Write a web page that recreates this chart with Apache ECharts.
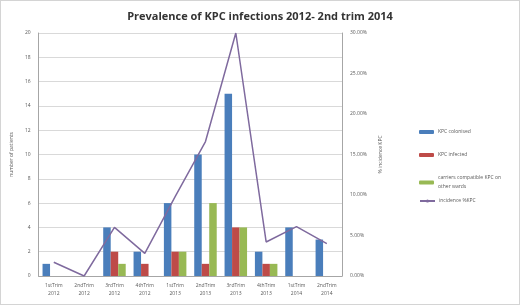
<!DOCTYPE html>
<html lang="en">
  <head>
    <meta charset="UTF-8" />
    <title>Prevalence of KPC infections</title>
    <script src="https://cdn.jsdelivr.net/npm/echarts@6/dist/echarts.min.js"></script>
  </head>
  <style>
    html,
    body {
      margin: 0;
      padding: 0;
      background: #fff;
    }
    #echart {
      width: 520px;
      height: 305px;
      box-sizing: border-box;
      border: 1px solid #d4d4d4;
    }
  </style>
  <body>
    <div id="echart"></div>
  </body>
  <script>
    const categories = [
      "1stTrim\n2012", "2ndTrim\n2012", "3rdTrim\n2012", "4thTrim\n2012",
      "1stTrim\n2013", "2ndTrim\n2013", "3rdTrim\n2013", "4thTrim\n2013",
      "1stTrim\n2014", "2ndTrim\n2014",
    ];
    const colonised = [1, 0, 4, 2, 6, 10, 15, 2, 4, 3];
    const infected = [0, 0, 2, 1, 2, 1, 4, 1, 0, 0];
    const otherWards = [0, 0, 1, 0, 2, 6, 4, 1, 0, 0];
    // % incidence, right axis
    const incidence = [1.7, 0, 6.0, 2.8, 9.8, 16.6, 30.0, 4.2, 6.1, 4.0];

    const names = [
      "KPC colonised",
      "KPC infected",
      "carriers compatible KPC on\nother wards",
      "incidence %KPC",
    ];
    const legendTops = [126.5, 149.5, 172.5, 195.5];

    const chart = echarts.init(document.getElementById("echart"));
    const font = "Open Sans, sans-serif";
    const small = { fontSize: 5, color: "#595959", fontFamily: font };

    const option = {
      animation: false,
      title: {
        text: "Prevalence of KPC infections 2012- 2nd trim 2014",
        left: "center",
        top: 5,
        textStyle: { fontSize: 11, fontWeight: "bold", color: "#333", fontFamily: font },
      },
      legend: names.map((n, i) => ({
        left: 418,
        top: legendTops[i],
        padding: 0,
        orient: "vertical",
        itemWidth: 15,
        itemHeight: 4,
        selectedMode: false,
        data: [n],
        textStyle: Object.assign({ lineHeight: 9, padding: [0, 0, 0, -1] }, small),
      })),
      grid: { left: 35, right: 177, top: 32, bottom: 28 },
      xAxis: {
        type: "category",
        data: categories,
        axisLine: { lineStyle: { color: "#a6a6a6" } },
        axisTick: { show: false },
        axisLabel: Object.assign({ lineHeight: 8, margin: 6, interval: 0 }, small),
      },
      yAxis: [
        {
          type: "value",
          min: 0,
          max: 20,
          interval: 2,
          name: "number of patients",
          nameLocation: "middle",
          nameGap: 20,
          nameTextStyle: small,
          axisLine: { show: true, lineStyle: { color: "#a6a6a6" } },
          axisLabel: Object.assign({ margin: 8 }, small),
          splitLine: { lineStyle: { color: "#d9d9d9" } },
        },
        {
          type: "value",
          min: 0,
          max: 30,
          interval: 5,
          name: "% incidence KPC",
          nameLocation: "middle",
          nameRotate: 90,
          nameGap: 34,
          nameTextStyle: small,
          axisLine: { show: true, lineStyle: { color: "#a6a6a6" } },
          axisLabel: Object.assign({ margin: 8, formatter: (v) => v.toFixed(2) + "%" }, small),
          splitLine: { show: false },
        },
      ],
      series: [
        { name: names[0], type: "bar", data: colonised, barWidth: 7.5, barGap: "0%", itemStyle: { color: "#4a7ebb" } },
        { name: names[1], type: "bar", data: infected, barWidth: 7.5, barGap: "0%", itemStyle: { color: "#be4b48" } },
        { name: names[2], type: "bar", data: otherWards, barWidth: 7.5, barGap: "0%", itemStyle: { color: "#98b954" } },
        {
          name: names[3],
          type: "line",
          yAxisIndex: 1,
          data: incidence,
          symbol: "none",
          lineStyle: { color: "#7f6a9e", width: 1.5 },
          itemStyle: { color: "#7f6a9e" },
        },
      ],
    };

    chart.setOption(option);
  </script>
</html>
